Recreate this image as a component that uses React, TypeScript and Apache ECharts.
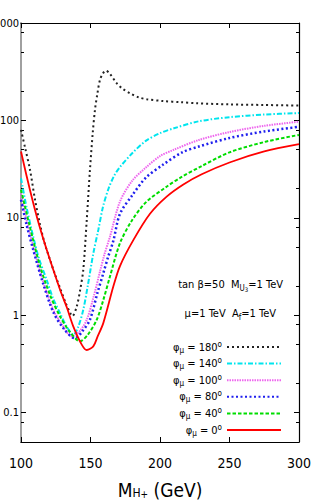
import React, { useEffect, useRef } from "react";
import * as echarts from "echarts";

const FONT = "'Liberation Sans Narrow', 'DejaVu Sans Condensed', 'Liberation Sans', sans-serif";

// phi_mu values (degrees) in legend order
const phiLabels = ["180", "140", "100", "80", "40", "0"];

// x: M_H+ (GeV), y: ratio (log scale)
const mass180 = [100, 103, 106.5, 110.1, 113.7, 117, 120.9, 125, 128.1, 132, 135.5, 137, 140.1, 142.5, 144.8, 147.3, 149.6, 151.6, 153.2, 155, 156.8, 159, 161.2, 164, 168.8, 173, 178.4, 185, 190.4, 202.4, 215, 226.4, 250, 275, 300];
const ratio180 = [80, 52, 31, 15.3, 8.5, 5.5, 3.7, 2.5, 1.9, 1.35, 1.05, 0.98, 1.23, 1.8, 2.93, 9.5, 31, 74, 128, 190, 260, 305, 324, 300, 241, 212, 190, 172, 165, 158, 154, 150, 146, 144, 142];

const mass140 = [100, 104, 108.8, 113, 118.5, 123, 128.1, 133, 137.6, 141, 144.8, 148, 152, 155.6, 159, 163, 167, 171, 180, 190, 200, 210, 228, 250, 275, 300];
const ratio140 = [25.5, 12.8, 6.4, 3.8, 2.3, 1.5, 1.05, 0.76, 0.63, 0.75, 1.14, 2.0, 4.3, 7.5, 13, 20, 27, 33, 46, 62, 74, 83, 98, 108, 115, 119];

const mass100 = [100, 104, 108.8, 116, 123.2, 129.5, 136.5, 142, 147.3, 152, 156.8, 160, 164, 171.2, 180, 190, 200, 210, 228, 250, 275, 300];
const ratio100 = [17.9, 9.5, 5.1, 2.2, 1.14, 0.8, 0.61, 0.68, 0.9, 1.5, 2.8, 4.2, 6.4, 14.7, 24, 33, 43, 50, 63, 76, 88, 97];

const mass80 = [100, 104, 108.8, 116, 123.2, 131, 138.8, 144, 149.6, 155, 159.2, 162.5, 166.4, 171.2, 180, 190, 202, 216, 228, 250, 275, 300];
const ratio80 = [15.3, 8.5, 4.7, 2.1, 1.08, 0.72, 0.58, 0.68, 0.9, 1.7, 2.7, 3.9, 5.8, 11, 17, 26, 35, 47, 54, 66, 77, 86];

const mass40 = [100, 106, 113.7, 121, 128.1, 135, 142.4, 148, 154.5, 159, 164, 171.2, 180, 190, 205, 215, 230, 250, 275, 300];
const ratio40 = [19.4, 8.5, 3.2, 1.6, 0.97, 0.68, 0.54, 0.63, 0.9, 1.4, 2.5, 5.5, 9.5, 14.5, 21, 26, 34, 47, 60, 71];

const mass0 = [100, 104, 108.8, 113, 118.5, 128.1, 133, 137.6, 143.7, 147.3, 152, 155, 159.2, 166.4, 171.2, 180.8, 192.8, 204.8, 216.8, 230, 250, 275, 300];
const ratio0 = [48, 27, 14.2, 8.5, 4.7, 1.83, 1.2, 0.77, 0.5, 0.44, 0.48, 0.6, 0.83, 1.97, 3.2, 5.9, 11, 16.5, 22, 28, 37, 48, 57];

const xTicks = [100, 150, 200, 250, 300];
const yMajor = [0.1, 1, 10, 100, 1000];
const yMinor = [0.08, 0.2, 0.5, 0.8, 2, 5, 8, 20, 50, 80, 200, 500, 800];

const curves = [
  { name: phiLabels[0], xs: mass180, ys: ratio180, color: "#222222", type: [2, 3], width: 2 },
  { name: phiLabels[1], xs: mass140, ys: ratio140, color: "#00e5ee", type: [5, 2, 1.5, 2], width: 2 },
  { name: phiLabels[2], xs: mass100, ys: ratio100, color: "#ee66ee", type: [1.5, 1], width: 2 },
  { name: phiLabels[3], xs: mass80, ys: ratio80, color: "#1f1fee", type: [2, 2.5], width: 2.5 },
  { name: phiLabels[4], xs: mass40, ys: ratio40, color: "#00dd00", type: [3.5, 2], width: 2 },
  { name: phiLabels[5], xs: mass0, ys: ratio0, color: "#ff0000", type: "solid", width: 1.8 },
];

export default function App() {
  const ref = useRef<HTMLDivElement>(null);
  useEffect(() => {
    if (!ref.current) return;
    const chart = echarts.init(ref.current, null, { renderer: "svg" });
    const grid = { left: 21, top: 23, right: 17, bottom: 58, outerBoundsMode: "none", containLabel: false };
    const yBase = { type: "log", min: 0.05, max: 1000, logBase: 10, splitLine: { show: false }, gridIndex: 0 };
    const option: any = {
      animation: false,
      backgroundColor: "#ffffff",
      grid,
      xAxis: [
        {
          type: "value", min: 100, max: 300, interval: 50, position: "bottom",
          axisLine: { show: true, onZero: false, lineStyle: { color: "#000", width: 1.2 } },
          axisTick: { show: true, inside: true, length: 5, lineStyle: { color: "#000" }, customValues: xTicks },
          axisLabel: { fontFamily: FONT, fontSize: 14, color: "#000", margin: 14, customValues: xTicks },
          splitLine: { show: false },
          name: "{m|M}{s|H}{p|+}{m| (GeV)}",
          nameLocation: "middle",
          nameGap: 35,
          nameTextStyle: {
            rich: {
              m: { fontFamily: FONT, fontSize: 19, color: "#000", lineHeight: 22, verticalAlign: "bottom" },
              s: { fontFamily: FONT, fontSize: 12, color: "#000", lineHeight: 12, verticalAlign: "bottom" },
              p: { fontFamily: FONT, fontSize: 10, color: "#000", lineHeight: 16, verticalAlign: "bottom" },
            },
          },
        },
        {
          type: "value", min: 100, max: 300, interval: 50, position: "top",
          axisLine: { show: true, onZero: false, lineStyle: { color: "#000", width: 1.2 } },
          axisTick: { show: true, inside: true, length: 5, lineStyle: { color: "#000" }, customValues: xTicks },
          axisLabel: { show: false },
          splitLine: { show: false },
        },
      ],
      yAxis: [
        {
          ...yBase, position: "left",
          axisLine: { show: true, onZero: false, lineStyle: { color: "#a0a0a0", width: 2 } },
          axisTick: { show: true, inside: true, length: 5, lineStyle: { color: "#000" }, customValues: yMajor },
          axisLabel: { fontFamily: FONT, fontSize: 11, color: "#000", margin: 2, customValues: yMajor, formatter: (v: number) => String(v) },
        },
        {
          ...yBase, position: "left",
          axisLine: { show: false },
          axisTick: { show: true, inside: true, length: 3, lineStyle: { color: "#000" }, customValues: yMinor },
          axisLabel: { show: false },
        },
        {
          ...yBase, position: "right",
          axisLine: { show: true, onZero: false, lineStyle: { color: "#000", width: 1.2 } },
          axisTick: { show: true, inside: true, length: 5, lineStyle: { color: "#000" }, customValues: yMajor },
          axisLabel: { show: false },
        },
        {
          ...yBase, position: "right",
          axisLine: { show: false },
          axisTick: { show: true, inside: true, length: 3, lineStyle: { color: "#000" }, customValues: yMinor },
          axisLabel: { show: false },
        },
      ],
      legend: {
        orient: "vertical",
        right: 34,
        top: 340,
        align: "right",
        itemWidth: 54,
        itemHeight: 10,
        itemGap: 2.6,
        padding: 0,
        data: phiLabels,
        itemStyle: { opacity: 0 },
        formatter: (name: string) => `{g|φ}{s|μ}{g| = ${name}}{o|o}`,
        textStyle: {
          rich: {
            g: { fontFamily: FONT, fontSize: 11, color: "#000", lineHeight: 14, verticalAlign: "middle" },
            s: { fontFamily: FONT, fontSize: 8, color: "#000", lineHeight: 8, verticalAlign: "bottom" },
            o: { fontFamily: FONT, fontSize: 8, color: "#000", lineHeight: 8, verticalAlign: "top" },
          },
        },
      },
      graphic: [
        {
          type: "text", x: 283, y: 284,
          style: {
            text: "{t|tan β=50  M}{s|U}{z|3}{t|=1 TeV}",
            align: "right", verticalAlign: "middle",
            rich: {
              t: { fontFamily: FONT, fontSize: 11, fill: "#000", lineHeight: 16, verticalAlign: "middle" },
              s: { fontFamily: FONT, fontSize: 8, fill: "#000", lineHeight: 12, verticalAlign: "bottom" },
              z: { fontFamily: FONT, fontSize: 6, fill: "#000", lineHeight: 6, verticalAlign: "bottom" },
            },
          },
        },
        {
          type: "text", x: 276, y: 313,
          style: {
            text: "{t|μ=1 TeV  A}{s|f}{t|=1 TeV}",
            align: "right", verticalAlign: "middle",
            rich: {
              t: { fontFamily: FONT, fontSize: 11, fill: "#000", lineHeight: 16, verticalAlign: "middle" },
              s: { fontFamily: FONT, fontSize: 8, fill: "#000", lineHeight: 8, verticalAlign: "bottom" },
            },
          },
        },
      ],
      series: curves.map((c) => ({
        name: c.name,
        type: "line",
        xAxisIndex: 0,
        yAxisIndex: 0,
        data: c.xs.map((x, i) => [x, c.ys[i]]),
        showSymbol: false,
        symbol: "none",
        smooth: 0.3,
        clip: true,
        lineStyle: { color: c.color, width: c.width, type: c.type },
        itemStyle: { color: c.color },
      })),
    };
    chart.setOption(option);
    return () => chart.dispose();
  }, []);
  return <div ref={ref} style={{ position: "absolute", left: 0, top: 0, width: 316, height: 500 }} />;
}
